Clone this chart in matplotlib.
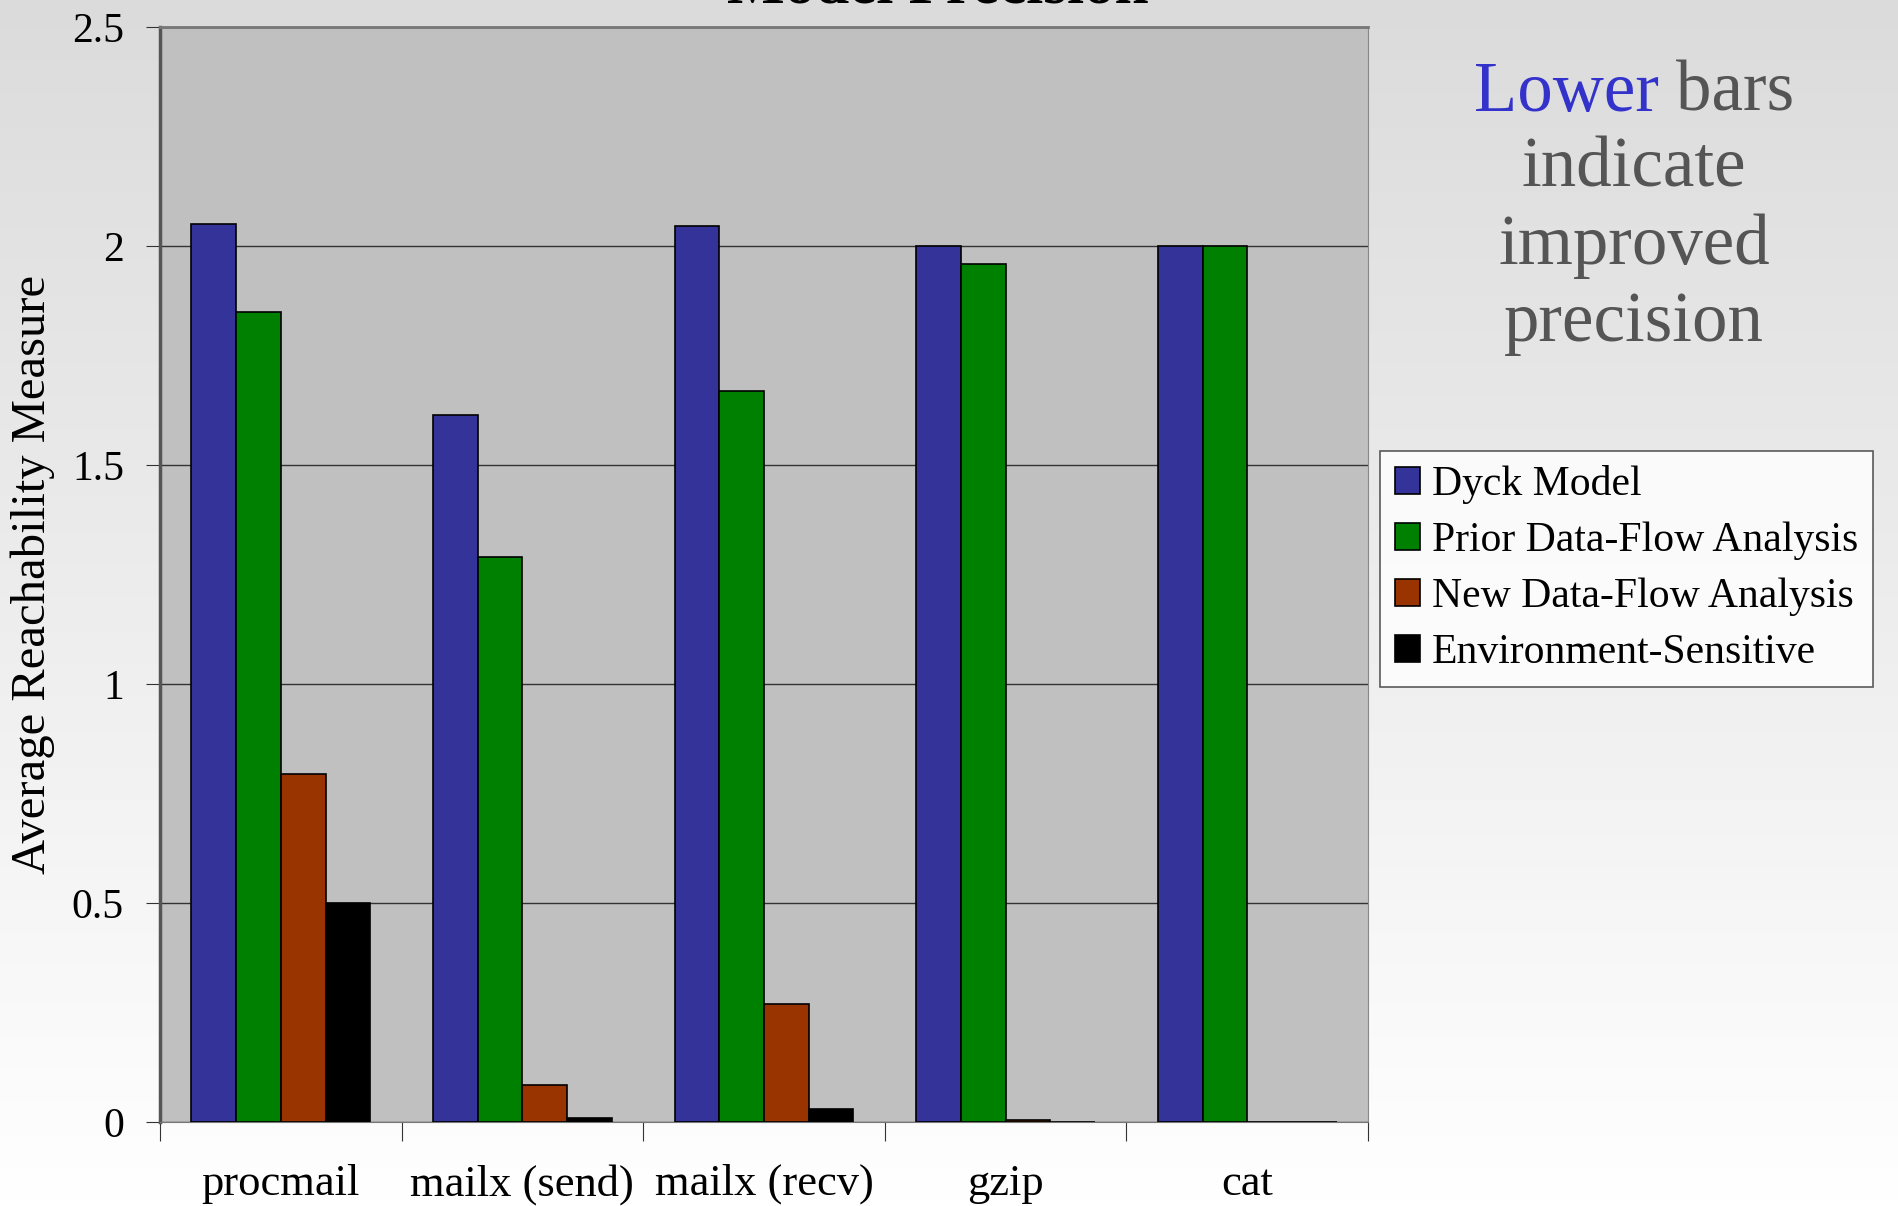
#graphique de precision des modeles
import numpy as np
from matplotlib import pyplot as plt

programmes = ['procmail', 'mailx (send)', 'mailx (recv)', 'gzip', 'cat']
series = ['Dyck Model', 'Prior Data-Flow Analysis', 'New Data-Flow Analysis', 'Environment-Sensitive']
dyck = [2.05, 1.615, 2.045, 2.0, 2.0]
prior = [1.85, 1.29, 1.67, 1.96, 2.0]
nouveau = [0.795, 0.085, 0.27, 0.005, 0.0]
env = [0.5, 0.01, 0.03, 0.0, 0.0]
couleurs = ['#333399', '#008000', '#993300', '#000000']

plt.rcParams['font.family'] = ['Liberation Serif', 'DejaVu Serif']

fig = plt.figure(figsize=(18.98, 12.06), dpi=100)

# fond en degrade
fond = fig.add_axes([0, 0, 1, 1], zorder=-10)
grad = np.linspace(0.86, 1.0, 256).reshape(-1, 1)
fond.imshow(np.dstack([grad, grad, grad]), aspect='auto', extent=[0, 1, 0, 1])
fond.axis('off')

ax = fig.add_axes([0.0843, 0.0697, 0.6365, 0.9079])
ax.set_facecolor('#c0c0c0')

x = np.arange(len(programmes))
w = 0.185
valeurs = [dyck, prior, nouveau, env]
for i, v in enumerate(valeurs):
    ax.bar(x + (i - 1.5) * w, v, w, color=couleurs[i], edgecolor='black',
           linewidth=1.2, label=series[i], zorder=3)

ax.set_xlim(-0.5, len(programmes) - 0.5)
ax.set_ylim(0, 2.5)
ax.set_yticks([0, 0.5, 1, 1.5, 2, 2.5])
ax.set_yticklabels(['0', '0.5', '1', '1.5', '2', '2.5'], fontsize=30)
ax.set_xticks(np.arange(len(programmes) + 1) - 0.5)
ax.set_xticklabels([])
ax.set_xticks(x, minor=True)
ax.set_xticklabels(programmes, minor=True, fontsize=32)
ax.tick_params(axis='x', which='minor', length=0, pad=30)
ax.tick_params(axis='x', which='major', length=14, color='#333333', direction='out')
ax.tick_params(axis='y', length=10, color='#333333', direction='out', pad=16)
ax.grid(axis='y', color='#333333', linewidth=1, zorder=1)

ax.spines['left'].set_linewidth(2.5)
ax.spines['left'].set_color('#555555')
ax.spines['top'].set_color('#777777')
ax.spines['top'].set_linewidth(2)
ax.spines['right'].set_color('#888888')
ax.spines['bottom'].set_color('#777777')

ax.set_ylabel('Average Reachability Measure', fontsize=35, labelpad=12)

leg = ax.legend(loc='upper left', bbox_to_anchor=(1.010, 0.613), fontsize=30,
                frameon=True, fancybox=False, handlelength=0.6, handleheight=0.6,
                handletextpad=0.3, borderpad=0.35, labelspacing=0.42,
                borderaxespad=0)
leg.get_frame().set_edgecolor('#333333')
leg.get_frame().set_facecolor('white')
leg.get_frame().set_linewidth(1.2)

# texte explicatif, premiere ligne en deux couleurs centree
cx = 0.861
fig.canvas.draw()
r = fig.canvas.get_renderer()
t1 = fig.text(0, 0.908, 'Lower ', color='#3333cc', fontsize=51)
t2 = fig.text(0, 0.908, 'bars', color='#555555', fontsize=51)
w1 = t1.get_window_extent(r).width / fig.bbox.width
w2 = t2.get_window_extent(r).width / fig.bbox.width
t1.set_x(cx - (w1 + w2) / 2)
t2.set_x(cx - (w1 + w2) / 2 + w1)
for k, t in enumerate(['indicate', 'improved', 'precision']):
    fig.text(cx, 0.845 - k * 0.064, t, color='#555555', fontsize=51, ha='center')

fig.text(0.494, 0.998, 'Model Precision', fontsize=44, fontweight='bold', ha='center', va='baseline')

fig.savefig('out.png', dpi=100)
